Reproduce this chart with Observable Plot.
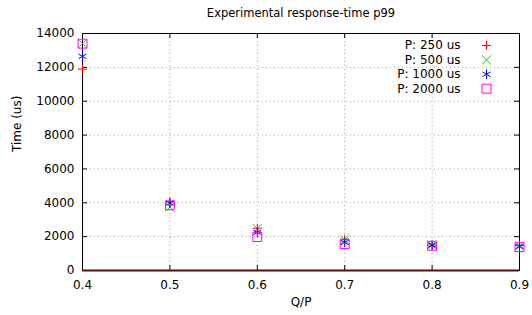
<!DOCTYPE html>
<html>
<head>
<meta charset="utf-8">
<script src="https://cdn.jsdelivr.net/npm/d3@7"></script>
<script src="https://cdn.jsdelivr.net/npm/@observablehq/plot@0.6"></script>
<style>
  html, body { margin: 0; padding: 0; background: #fff; }
</style>
</head>
<body>
<div id="chart"></div>
<script>
const title = "Experimental response-time p99";
const xLabel = "Q/P";
const yLabel = "Time (us)";
const qp = [0.4, 0.5, 0.6, 0.7, 0.8, 0.9];
const p250 = [11900, 4050, 2500, 1850, 1500, 1480];
const p500 = [13400, 3750, 2480, 1800, 1500, 1450];
const p1000 = [12650, 3980, 2250, 1660, 1500, 1420];
const p2000 = [13400, 3850, 1980, 1560, 1460, 1380];
const seriesNames = ["P: 250 us", "P: 500 us", "P: 1000 us", "P: 2000 us"];
const seriesColors = ["#ff0000", "#00dd00", "#0000ff", "#ff00ff"];
const seriesSymbols = ["plus", "times", "asterisk", "square2"];
const seriesR = [3.0, 4.2, 4.4, 5.7];
const xTicks = [0.4, 0.5, 0.6, 0.7, 0.8, 0.9];
const yTicks = [0, 2000, 4000, 6000, 8000, 10000, 12000, 14000];

const seriesValues = [p250, p500, p1000, p2000];

const W = 532, H = 315, mL = 82, mR = 13, mT = 33, mB = 45;
const iw = W - mL - mR, ih = H - mT - mB;
const tk = 5;

const marks = [];
// grid
marks.push(Plot.ruleX(xTicks.slice(1, -1), {stroke: "#a0a0a0", strokeDasharray: "1,3"}));
marks.push(Plot.ruleY(yTicks.slice(1, -1), {stroke: "#a0a0a0", strokeDasharray: "1,3"}));
// ticks inward on all sides
marks.push(Plot.tickX(xTicks, {x: d => d, insetTop: ih - tk, stroke: "black"}));
marks.push(Plot.tickX(xTicks, {x: d => d, insetBottom: ih - tk, stroke: "black"}));
marks.push(Plot.tickY(yTicks, {y: d => d, insetRight: iw - tk, stroke: "black"}));
marks.push(Plot.tickY(yTicks, {y: d => d, insetLeft: iw - tk, stroke: "black"}));
marks.push(Plot.frame({stroke: "black"}));
marks.push(Plot.ruleY([0], {stroke: "#5a0f0f", strokeWidth: 2}));
// axes
marks.push(Plot.axisX({ticks: xTicks, tickSize: 0, tickPadding: 10, tickFormat: d3.format(".1f"), label: null, fontSize: 12}));
marks.push(Plot.axisY({ticks: yTicks, tickSize: 0, tickPadding: 8, tickFormat: d => String(d), label: null, fontSize: 12}));
// data
seriesValues.forEach((vals, i) => {
  const rows = qp.map((q, j) => ({q, v: vals[j]}));
  marks.push(Plot.dot(rows, {x: "q", y: "v", symbol: () => seriesSymbols[i], r: seriesR[i], stroke: seriesColors[i], fill: "none", strokeWidth: 1}));
});
// legend
seriesNames.forEach((name, i) => {
  marks.push(Plot.text([name], {text: d => d, frameAnchor: "top-right", lineAnchor: "middle", dx: -59, dy: 12 + i * 14.4, textAnchor: "end", fontSize: 12, fill: "black"}));
  marks.push(Plot.dot([name], {frameAnchor: "top-right", dx: -33, dy: 12 + i * 14.4, symbol: () => seriesSymbols[i], r: seriesR[i], stroke: seriesColors[i], fill: "none", strokeWidth: 1}));
});
// titles
marks.push(Plot.text([title], {text: d => d, frameAnchor: "top", lineAnchor: "middle", dy: -20, fontSize: 11.5, fill: "black"}));
marks.push(Plot.text([xLabel], {text: d => d, frameAnchor: "bottom", lineAnchor: "middle", dy: 32, fontSize: 12, fill: "black"}));
marks.push(Plot.text([yLabel], {text: d => d, frameAnchor: "left", lineAnchor: "middle", dx: -65, rotate: -90, fontSize: 12, fill: "black"}));

const chart = Plot.plot({
  width: W, height: H,
  marginLeft: mL, marginRight: mR, marginTop: mT, marginBottom: mB,
  style: {fontFamily: "DejaVu Sans", fontSize: "12px", background: "#fff", color: "black"},
  x: {domain: [0.4, 0.9]},
  y: {domain: [0, 14000]},
  symbol: {type: "identity"},
  marks
});
document.getElementById("chart").appendChild(chart);
</script>
</body>
</html>
